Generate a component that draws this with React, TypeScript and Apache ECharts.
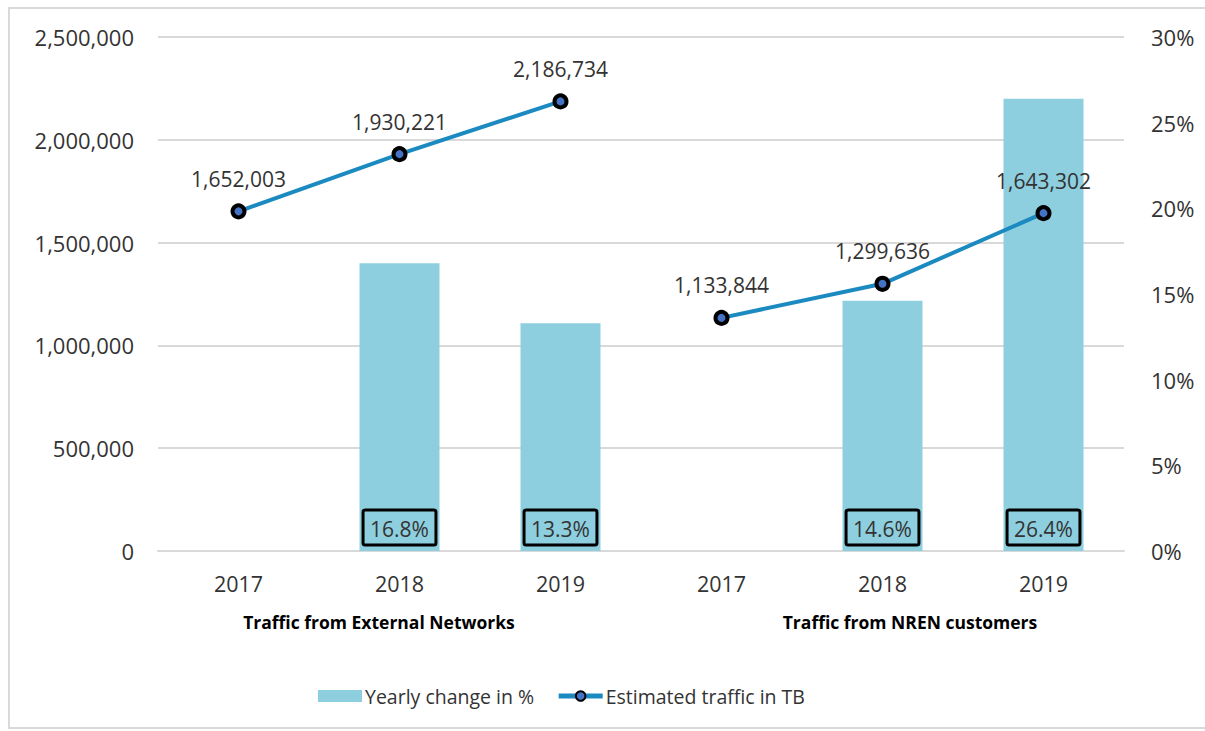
import React, { useEffect, useRef } from "react";
import * as echarts from "echarts";

const years = ["2017", "2018", "2019", "2017", "2018", "2019"];
const groupLabels = ["Traffic from External Networks", "Traffic from NREN customers"];
const yearlyChange = [null, 16.8, 13.3, null, 14.6, 26.4];
const trafficExternal = [1652003, 1930221, 2186734, null, null, null];
const trafficNren = [null, null, null, 1133844, 1299636, 1643302];
const leftTicks = { min: 0, max: 2500000, interval: 500000 };
const rightTicks = { min: 0, max: 30, interval: 5 };

const FONT = "'Open Sans', 'Noto Sans', sans-serif";
const TXT = "#333333";
const fmt = (v: number) => v.toLocaleString("en-US");

export default function App() {
  const ref = useRef<HTMLDivElement>(null);
  useEffect(() => {
    const chart = echarts.init(ref.current!, null, { renderer: "svg" });
    const lineSeries = (data: (number | null)[]) => ({
      type: "line",
      name: "Estimated traffic in TB",
      yAxisIndex: 0,
      data,
      symbol: "circle",
      symbolSize: 12,
      lineStyle: { color: "#1B8AC1", width: 4 },
      itemStyle: { color: "#4472C4", borderColor: "#000000", borderWidth: 4 },
      label: {
        show: true,
        position: "top",
        distance: 14,
        fontSize: 21,
        fontFamily: FONT,
        color: TXT,
        formatter: (p: any) => fmt(p.value),
      },
      z: 5,
    });
    chart.setOption({
      animation: false,
      textStyle: { fontFamily: FONT },
      grid: { left: 158, right: 81, top: 37, bottom: 180 },
      legend: {
        left: 313,
        top: 681,
        itemGap: 22,
        itemWidth: 44,
        itemHeight: 12,
        lineStyle: { width: 5 },
        textStyle: { fontSize: 19.5, color: TXT, fontFamily: FONT, padding: [0, 0, 0, -2] },
        data: [
          { name: "Yearly change in %", icon: "rect" },
          { name: "Estimated traffic in TB" },
        ],
      },
      xAxis: {
        type: "category",
        data: years,
        axisLine: { lineStyle: { color: "#d9d9d9", width: 2 } },
        axisTick: { show: false },
        axisLabel: { fontSize: 21.5, color: TXT, margin: 21, fontFamily: FONT },
      },
      yAxis: [
        {
          type: "value",
          ...leftTicks,
          axisLine: { show: false },
          axisTick: { show: false },
          splitLine: { lineStyle: { color: "#d9d9d9", width: 2 } },
          axisLabel: { fontSize: 22, color: TXT, margin: 24, fontFamily: FONT, formatter: (v: number) => fmt(v) },
        },
        {
          type: "value",
          ...rightTicks,
          axisLine: { show: false },
          axisTick: { show: false },
          splitLine: { show: false },
          axisLabel: { fontSize: 22, color: TXT, margin: 27, fontFamily: FONT, formatter: "{value}%" },
        },
      ],
      series: [
        {
          type: "bar",
          name: "Yearly change in %",
          yAxisIndex: 1,
          data: yearlyChange,
          barWidth: 80,
          itemStyle: { color: "#8ECFDF" },
          label: {
            show: true,
            position: "insideBottom",
            distance: 6,
            fontSize: 21,
            fontFamily: FONT,
            color: TXT,
            borderColor: "#000000",
            borderWidth: 3,
            borderRadius: 2,
            padding: [8, 7, 6, 7],
            formatter: (p: any) => p.value.toFixed(1) + "%",
          },
          z: 2,
        },
        lineSeries(trafficExternal),
        lineSeries(trafficNren),
      ],
      graphic: [
        {
          type: "rect",
          shape: { x: 9, y: 8, width: 1210, height: 720 },
          style: { fill: "none", stroke: "#d9d9d9", lineWidth: 2 },
          silent: true,
        },
        {
          type: "text",
          x: 379,
          y: 622,
          style: {
            text: groupLabels[0],
            fontSize: 17.5,
            fontWeight: "bold",
            fontFamily: FONT,
            fill: "#000000",
            align: "center",
            verticalAlign: "middle",
          },
        },
        {
          type: "text",
          x: 910,
          y: 622,
          style: {
            text: groupLabels[1],
            fontSize: 17.5,
            fontWeight: "bold",
            fontFamily: FONT,
            fill: "#000000",
            align: "center",
            verticalAlign: "middle",
          },
        },
      ],
    });
    return () => chart.dispose();
  }, []);
  return (
    <div
      ref={ref}
      style={{ position: "fixed", left: 0, top: 0, width: 1205, height: 731, background: "#fff" }}
    />
  );
}
